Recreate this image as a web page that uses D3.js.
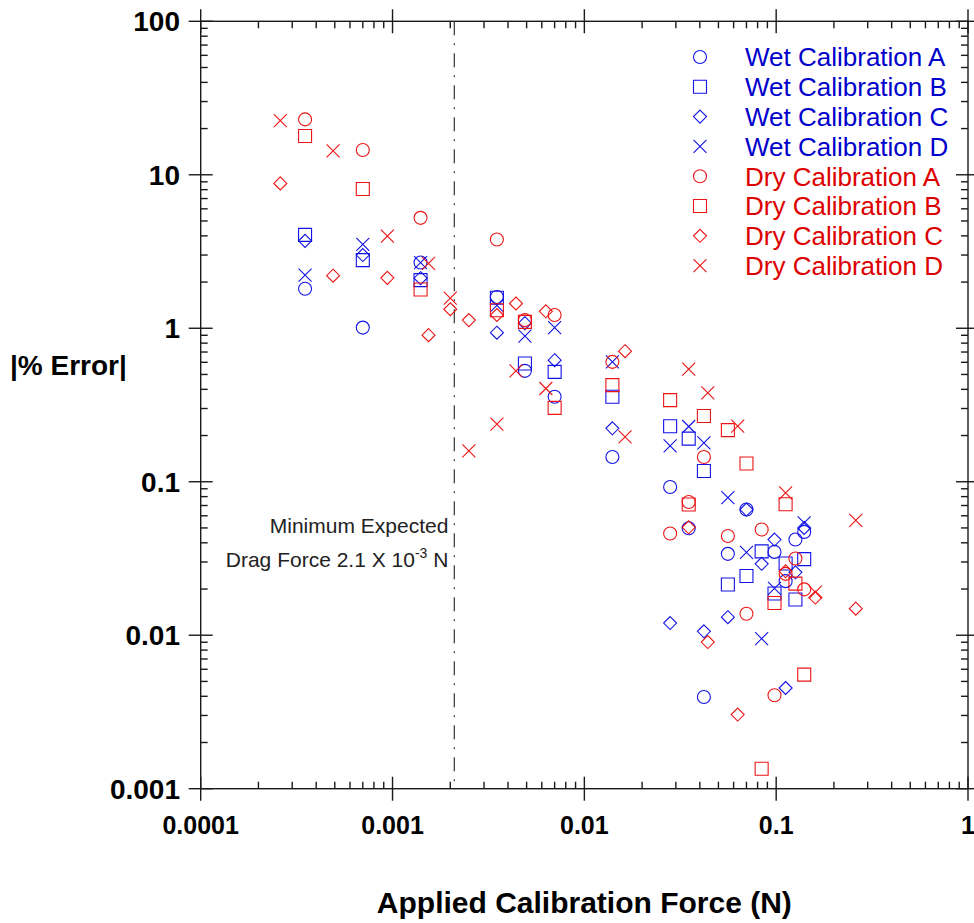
<!doctype html>
<html lang="en">
<head>
<meta charset="utf-8">
<script src="https://d3js.org/d3.v7.min.js"></script>
<title>Calibration error</title>
<style>
  body { margin: 0; background: #fff; }
  svg { display: block; font-family: Arial, "Liberation Sans", Helvetica, sans-serif; }
</style>
</head>
<body>
<svg id="svg1" width="974" height="923"></svg>
<script>
// ---- data ----
let wetAX = [0.00035, 0.0007, 0.0014, 0.0035, 0.0049, 0.007, 0.014, 0.028, 0.035, 0.042, 0.056, 0.07, 0.098, 0.112, 0.126, 0.14];
let wetAY = [1.81, 1.01, 2.68, 1.60, 0.528, 0.358, 0.145, 0.0925, 0.0498, 0.00396, 0.0339, 0.0659, 0.0349, 0.0225, 0.042, 0.0471];

let wetBX = [0.00035, 0.0007, 0.0014, 0.0035, 0.0049, 0.007, 0.014, 0.028, 0.035, 0.042, 0.056, 0.07, 0.084, 0.098, 0.112, 0.126, 0.14];
let wetBY = [4.06, 2.78, 2.06, 1.58, 0.589, 0.520, 0.358, 0.230, 0.191, 0.1176, 0.0214, 0.0243, 0.0352, 0.0187, 0.0293, 0.0171, 0.0313];

let wetCX = [0.00035, 0.0007, 0.0014, 0.0035, 0.0049, 0.007, 0.014, 0.028, 0.042, 0.056, 0.07, 0.084, 0.098, 0.112, 0.126, 0.14];
let wetCY = [3.71, 3.0, 2.12, 0.936, 1.08, 0.619, 0.223, 0.0120, 0.0106, 0.0131, 0.0659, 0.0292, 0.042, 0.00453, 0.0257, 0.050];

let wetDX = [0.00035, 0.0007, 0.0014, 0.0035, 0.0049, 0.007, 0.014, 0.028, 0.035, 0.042, 0.056, 0.07, 0.084, 0.098, 0.14];
let wetDY = [2.22, 3.52, 2.68, 1.41, 0.888, 1.01, 0.604, 0.171, 0.229, 0.179, 0.0789, 0.0347, 0.0095, 0.0202, 0.0539];

let dryAX = [0.00035, 0.0007, 0.0014, 0.0035, 0.0049, 0.007, 0.014, 0.028, 0.035, 0.042, 0.056, 0.07, 0.084, 0.098, 0.112, 0.126, 0.14];
let dryAY = [22.96, 14.5, 5.24, 3.79, 1.13, 1.22, 0.604, 0.046, 0.0738, 0.145, 0.0443, 0.0138, 0.0488, 0.00406, 0.0251, 0.0316, 0.0199];

let dryBX = [0.00035, 0.0007, 0.0014, 0.0035, 0.0049, 0.007, 0.014, 0.028, 0.035, 0.042, 0.056, 0.07, 0.084, 0.098, 0.112, 0.126, 0.14];
let dryBY = [17.9, 8.07, 1.79, 1.31, 1.10, 0.303, 0.426, 0.340, 0.0710, 0.268, 0.217, 0.1315, 0.00135, 0.0162, 0.0714, 0.0217, 0.00554];

let dryCX = [0.00026, 0.00049, 0.00094, 0.00154, 0.002, 0.0025, 0.0035, 0.0044, 0.0063, 0.0163, 0.035, 0.044, 0.063, 0.112, 0.16, 0.26];
let dryCY = [8.79, 2.20, 2.13, 0.902, 1.33, 1.13, 1.22, 1.45, 1.29, 0.709, 0.0505, 0.00903, 0.00304, 0.0261, 0.0176, 0.0149];

let dryDX = [0.00026, 0.00049, 0.00094, 0.00154, 0.002, 0.0025, 0.0035, 0.0044, 0.0063, 0.0163, 0.035, 0.044, 0.063, 0.112, 0.16, 0.26];
let dryDY = [22.5, 14.3, 3.98, 2.65, 1.57, 0.159, 0.237, 0.528, 0.405, 0.196, 0.541, 0.379, 0.230, 0.0845, 0.0191, 0.0561];

let seriesNames = ["Wet Calibration A", "Wet Calibration B", "Wet Calibration C", "Wet Calibration D",
                   "Dry Calibration A", "Dry Calibration B", "Dry Calibration C", "Dry Calibration D"];
let xTickLabels = ["0.0001", "0.001", "0.01", "0.1", "1"];
let yTickLabels = ["0.001", "0.01", "0.1", "1", "10", "100"];
let minDragForce = 0.0021;

// ---- layout ----
let width = 974, height = 923;
let plot = { left: 200.7, right: 968, top: 21.3, bottom: 788.7 };
let blue = "#1212e6", red = "#ec1414";
let blueText = "#0000cc", redText = "#dd0000";

let svg = d3.select("#svg1");

let xScale = d3.scaleLog().domain([1e-4, 1]).range([plot.left, plot.right]);
let yScale = d3.scaleLog().domain([1e-3, 100]).range([plot.bottom, plot.top]);

let series = [
  { x: wetAX, y: wetAY, shape: "circle",  color: blue },
  { x: wetBX, y: wetBY, shape: "square",  color: blue },
  { x: wetCX, y: wetCY, shape: "diamond", color: blue },
  { x: wetDX, y: wetDY, shape: "x",       color: blue },
  { x: dryAX, y: dryAY, shape: "circle",  color: red },
  { x: dryBX, y: dryBY, shape: "square",  color: red },
  { x: dryCX, y: dryCY, shape: "diamond", color: red },
  { x: dryDX, y: dryDY, shape: "x",       color: red }
];

// marker outline paths centred on 0,0
function markerPath(shape) {
  let r = 6.5;
  if (shape == "circle") {
    let p = d3.path(); p.arc(0, 0, r, 0, 2 * Math.PI); return p.toString();
  }
  if (shape == "square") return `M${-r},${-r}H${r}V${r}H${-r}Z`;
  if (shape == "diamond") return `M0,${-r}L${r},0L0,${r}L${-r},0Z`;
  return `M${-r},${-r}L${r},${r}M${-r},${r}L${r},${-r}`;
}

// ---- frame & ticks ----
let majorX = d3.range(-4, 1).map(e => Math.pow(10, e));
let majorY = d3.range(-3, 3).map(e => Math.pow(10, e));
let minorX = [], minorY = [];
majorX.slice(0, -1).forEach(m => { for (let k = 2; k < 10; k++) minorX.push(m * k); });
majorY.slice(0, -1).forEach(m => { for (let k = 2; k < 10; k++) minorY.push(m * k); });

let axisColor = "#1a1a1a";
let frame = svg.append("g").attr("stroke", axisColor).attr("stroke-width", 1.4).attr("fill", "none");
frame.append("rect")
  .attr("x", plot.left).attr("y", plot.top)
  .attr("width", plot.right - plot.left).attr("height", plot.bottom - plot.top);

let minorLen = 7, majorLen = 12;
// bottom & top
[[plot.bottom, -1], [plot.top, 1]].forEach(([y0, dir]) => {
  frame.selectAll(null).data(minorX).join("line")
    .attr("x1", d => xScale(d)).attr("x2", d => xScale(d))
    .attr("y1", y0).attr("y2", y0 + dir * minorLen);
  frame.selectAll(null).data(majorX).join("line")
    .attr("x1", d => xScale(d)).attr("x2", d => xScale(d))
    .attr("y1", y0 - majorLen).attr("y2", y0 + majorLen);
});
// left & right
[[plot.left, 1], [plot.right, -1]].forEach(([x0, dir]) => {
  frame.selectAll(null).data(minorY).join("line")
    .attr("y1", d => yScale(d)).attr("y2", d => yScale(d))
    .attr("x1", x0).attr("x2", x0 + dir * minorLen);
  frame.selectAll(null).data(majorY).join("line")
    .attr("y1", d => yScale(d)).attr("y2", d => yScale(d))
    .attr("x1", x0 - majorLen).attr("x2", x0 + majorLen);
});

// tick labels
svg.append("g").selectAll("text").data(majorX).join("text")
  .attr("x", d => xScale(d)).attr("y", 834)
  .attr("text-anchor", "middle")
  .attr("font-size", 25).attr("font-weight", "bold").attr("fill", "#000")
  .text((d, i) => xTickLabels[i]);

svg.append("g").selectAll("text").data(majorY).join("text")
  .attr("x", 180).attr("y", d => yScale(d))
  .attr("dy", "0.36em")
  .attr("text-anchor", "end")
  .attr("font-size", 28).attr("font-weight", "bold").attr("fill", "#000")
  .text((d, i) => yTickLabels[i]);

// axis titles
svg.append("text")
  .attr("x", (plot.left + plot.right) / 2).attr("y", 913)
  .attr("text-anchor", "middle")
  .attr("font-size", 30).attr("font-weight", "bold")
  .text("Applied Calibration Force (N)");

svg.append("text")
  .attr("x", 10).attr("y", 375)
  .attr("font-size", 28).attr("font-weight", "bold")
  .text("|% Error|");

// minimum drag force line + note
svg.append("line")
  .attr("x1", xScale(minDragForce)).attr("x2", xScale(minDragForce))
  .attr("y1", plot.top).attr("y2", plot.bottom)
  .attr("stroke", "#444").attr("stroke-width", 1.3)
  .attr("stroke-dasharray", "14,8,2,8");

let note = svg.append("g").attr("font-size", 21).attr("fill", "#222").attr("text-anchor", "end");
note.append("text").attr("x", xScale(minDragForce) - 6).attr("y", 533).text("Minimum Expected");
let t2 = note.append("text").attr("x", xScale(minDragForce) - 6).attr("y", 567);
t2.append("tspan").text("Drag Force 2.1 X 10");
t2.append("tspan").attr("font-size", 14).attr("dy", -9).text("-3");
t2.append("tspan").attr("dy", 9).text(" N");

// ---- points ----
series.forEach(s => {
  svg.append("g").selectAll("path")
    .data(s.x.map((x, i) => [x, s.y[i]]))
    .join("path")
    .attr("transform", d => `translate(${xScale(d[0])},${yScale(d[1])})`)
    .attr("d", markerPath(s.shape))
    .attr("fill", "none")
    .attr("stroke", s.color)
    .attr("stroke-width", 1.1);
});

// ---- legend ----
let legend = svg.append("g");
let legendRows = legend.selectAll("g").data(series).join("g")
  .attr("transform", (d, i) => `translate(0,${57 + i * 29.8})`);
legendRows.append("path")
  .attr("transform", "translate(700,0)")
  .attr("d", d => markerPath(d.shape))
  .attr("fill", "none")
  .attr("stroke", d => d.color)
  .attr("stroke-width", 1.1);
legendRows.append("text")
  .attr("x", 745).attr("dy", "0.36em")
  .attr("font-size", 26)
  .attr("fill", (d, i) => i < 4 ? blueText : redText)
  .text((d, i) => seriesNames[i]);
</script>
</body>
</html>
